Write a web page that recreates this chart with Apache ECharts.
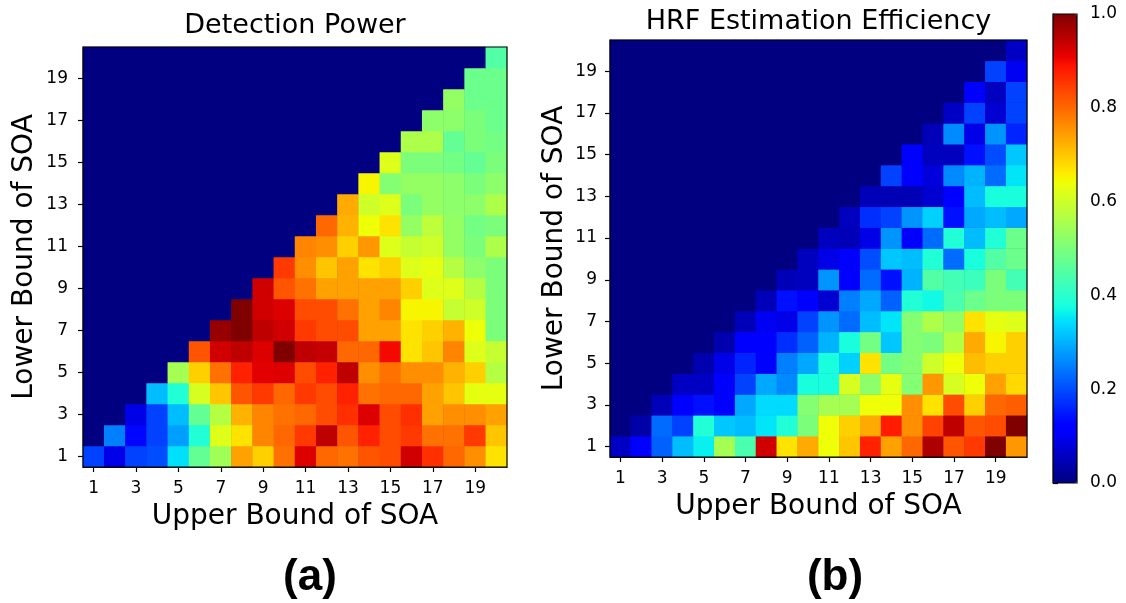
<!DOCTYPE html>
<html>
<head>
<meta charset="utf-8">
<script src="https://cdn.jsdelivr.net/npm/echarts@6/dist/echarts.min.js"></script>
<style>html,body{margin:0;padding:0;background:#fff;}#c{width:1126px;height:603px;}</style>
</head>
<body>
<div id="c"></div>
<script>
// Axis categories (SOA bounds 1..20)
const soaCategories = ['1','2','3','4','5','6','7','8','9','10','11','12','13','14','15','16','17','18','19','20'];
const colorbarTicks = [0, 0.2, 0.4, 0.6, 0.8, 1.0];

// Detection Power: each row = lower bound (1..20), columns = upper bound (1..20)
const dpLower1  = [0.19,0.09,0.19,0.20,0.345,0.47,0.545,0.74,0.69,0.79,0.92,0.80,0.79,0.82,0.83,0.93,0.86,0.80,0.76,0.67];
const dpLower2  = [0,0.25,0.13,0.19,0.28,0.39,0.62,0.67,0.77,0.80,0.85,0.945,0.82,0.875,0.83,0.85,0.79,0.79,0.85,0.70];
const dpLower3  = [0,0,0.09,0.19,0.31,0.47,0.57,0.72,0.77,0.79,0.80,0.83,0.86,0.92,0.83,0.86,0.74,0.76,0.76,0.74];
const dpLower4  = [0,0,0,0.31,0.39,0.61,0.70,0.82,0.85,0.80,0.85,0.83,0.875,0.79,0.80,0.80,0.74,0.70,0.63,0.63];
const dpLower5  = [0,0,0,0,0.55,0.69,0.79,0.875,0.915,0.92,0.83,0.875,0.945,0.76,0.79,0.76,0.76,0.72,0.69,0.57];
const dpLower6  = [0,0,0,0,0,0.82,0.93,0.945,0.92,1.0,0.945,0.94,0.80,0.80,0.90,0.67,0.70,0.77,0.62,0.59];
const dpLower7  = [0,0,0,0,0,0,0.98,1.0,0.945,0.93,0.85,0.83,0.83,0.74,0.74,0.67,0.69,0.72,0.64,0.50];
const dpLower8  = [0,0,0,0,0,0,0,1.0,0.93,0.92,0.83,0.83,0.79,0.74,0.77,0.65,0.65,0.59,0.60,0.50];
const dpLower9  = [0,0,0,0,0,0,0,0,0.93,0.82,0.79,0.74,0.74,0.74,0.74,0.69,0.62,0.62,0.57,0.50];
const dpLower10 = [0,0,0,0,0,0,0,0,0,0.85,0.76,0.70,0.74,0.67,0.69,0.62,0.63,0.57,0.52,0.50];
const dpLower11 = [0,0,0,0,0,0,0,0,0,0,0.77,0.76,0.69,0.75,0.62,0.59,0.60,0.53,0.50,0.56];
const dpLower12 = [0,0,0,0,0,0,0,0,0,0,0,0.80,0.72,0.64,0.67,0.53,0.58,0.53,0.49,0.50];
const dpLower13 = [0,0,0,0,0,0,0,0,0,0,0,0,0.73,0.60,0.62,0.50,0.53,0.52,0.52,0.56];
const dpLower14 = [0,0,0,0,0,0,0,0,0,0,0,0,0,0.65,0.51,0.53,0.53,0.52,0.50,0.52];
const dpLower15 = [0,0,0,0,0,0,0,0,0,0,0,0,0,0,0.62,0.50,0.50,0.49,0.47,0.50];
const dpLower16 = [0,0,0,0,0,0,0,0,0,0,0,0,0,0,0,0.56,0.56,0.47,0.50,0.49];
const dpLower17 = [0,0,0,0,0,0,0,0,0,0,0,0,0,0,0,0,0.52,0.52,0.50,0.48];
const dpLower18 = [0,0,0,0,0,0,0,0,0,0,0,0,0,0,0,0,0,0.53,0.48,0.48];
const dpLower19 = [0,0,0,0,0,0,0,0,0,0,0,0,0,0,0,0,0,0,0.48,0.48];
const dpLower20 = [0,0,0,0,0,0,0,0,0,0,0,0,0,0,0,0,0,0,0,0.45];

// HRF Estimation Efficiency
const heLower1  = [0.06,0.12,0.22,0.31,0.36,0.55,0.44,0.93,0.67,0.73,0.64,0.70,0.875,0.74,0.80,0.96,0.82,0.85,1.0,0.75];
const heLower2  = [0,0.035,0.23,0.19,0.39,0.32,0.31,0.35,0.39,0.50,0.64,0.69,0.73,0.88,0.76,0.84,0.945,0.82,0.83,1.0];
const heLower3  = [0,0,0.05,0.12,0.14,0.12,0.29,0.34,0.34,0.51,0.55,0.55,0.64,0.64,0.76,0.67,0.83,0.69,0.80,0.81];
const heLower4  = [0,0,0,0.06,0.06,0.12,0.19,0.29,0.26,0.38,0.38,0.61,0.52,0.63,0.51,0.75,0.61,0.64,0.74,0.68];
const heLower5  = [0,0,0,0,0.04,0.09,0.16,0.12,0.25,0.29,0.38,0.33,0.67,0.49,0.51,0.60,0.64,0.71,0.69,0.69];
const heLower6  = [0,0,0,0,0,0.04,0.12,0.12,0.17,0.22,0.30,0.38,0.49,0.32,0.51,0.50,0.57,0.73,0.65,0.69];
const heLower7  = [0,0,0,0,0,0,0.05,0.10,0.09,0.19,0.27,0.23,0.31,0.35,0.51,0.56,0.53,0.67,0.63,0.62];
const heLower8  = [0,0,0,0,0,0,0,0.05,0.14,0.12,0.07,0.25,0.29,0.22,0.39,0.37,0.44,0.48,0.50,0.50];
const heLower9  = [0,0,0,0,0,0,0,0,0.05,0.055,0.27,0.12,0.23,0.14,0.30,0.45,0.43,0.42,0.50,0.43];
const heLower10 = [0,0,0,0,0,0,0,0,0,0.055,0.09,0.12,0.20,0.32,0.31,0.39,0.23,0.38,0.45,0.48];
const heLower11 = [0,0,0,0,0,0,0,0,0,0,0.055,0.05,0.09,0.27,0.12,0.23,0.39,0.31,0.39,0.48];
const heLower12 = [0,0,0,0,0,0,0,0,0,0,0,0.055,0.17,0.19,0.27,0.33,0.14,0.29,0.31,0.29];
const heLower13 = [0,0,0,0,0,0,0,0,0,0,0,0,0.05,0.045,0.045,0.07,0.12,0.31,0.38,0.38];
const heLower14 = [0,0,0,0,0,0,0,0,0,0,0,0,0,0.19,0.12,0.08,0.26,0.30,0.23,0.35];
const heLower15 = [0,0,0,0,0,0,0,0,0,0,0,0,0,0,0.12,0.055,0.055,0.14,0.20,0.32];
const heLower16 = [0,0,0,0,0,0,0,0,0,0,0,0,0,0,0,0.05,0.26,0.09,0.27,0.16];
const heLower17 = [0,0,0,0,0,0,0,0,0,0,0,0,0,0,0,0,0.06,0.19,0.07,0.19];
const heLower18 = [0,0,0,0,0,0,0,0,0,0,0,0,0,0,0,0,0,0.12,0.055,0.19];
const heLower19 = [0,0,0,0,0,0,0,0,0,0,0,0,0,0,0,0,0,0,0.19,0.10];
const heLower20 = [0,0,0,0,0,0,0,0,0,0,0,0,0,0,0,0,0,0,0,0.06];

const dpRows = [dpLower1,dpLower2,dpLower3,dpLower4,dpLower5,dpLower6,dpLower7,dpLower8,dpLower9,dpLower10,
                dpLower11,dpLower12,dpLower13,dpLower14,dpLower15,dpLower16,dpLower17,dpLower18,dpLower19,dpLower20];
const heRows = [heLower1,heLower2,heLower3,heLower4,heLower5,heLower6,heLower7,heLower8,heLower9,heLower10,
                heLower11,heLower12,heLower13,heLower14,heLower15,heLower16,heLower17,heLower18,heLower19,heLower20];

function toCells(rows){
  const out = [];
  rows.forEach((row, yi) => row.forEach((v, xi) => out.push([xi, yi, v])));
  return out;
}

// matplotlib "jet" colormap
function jet(v){
  const seg = {
    r: [[0,0],[0.35,0],[0.66,1],[0.89,1],[1,0.5]],
    g: [[0,0],[0.125,0],[0.375,1],[0.64,1],[0.91,0],[1,0]],
    b: [[0,0.5],[0.11,1],[0.34,1],[0.65,0],[1,0]]
  };
  function f(p){
    for (let i=1;i<p.length;i++){
      if (v <= p[i][0]){
        const t = (v - p[i-1][0])/(p[i][0]-p[i-1][0]);
        return p[i-1][1] + t*(p[i][1]-p[i-1][1]);
      }
    }
    return p[p.length-1][1];
  }
  const h = x => Math.round(Math.max(0,Math.min(1,x))*255);
  return 'rgb(' + h(f(seg.r)) + ',' + h(f(seg.g)) + ',' + h(f(seg.b)) + ')';
}
const jetStops = [];
for (let i=0;i<=200;i++) jetStops.push(jet(i/200));

// layout boxes
const boxA = {left: 83, top: 47, width: 424, height: 420};
const boxB = {left: 610, top: 40, width: 417, height: 417};
const boxC = {left: 1053, top: 14, width: 24, height: 469};

const FONT = 'DejaVu Sans';
function catAxis(gridIndex, name, gap, labelMargin){
  return {
    type: 'category', gridIndex: gridIndex, data: soaCategories,
    name: name, nameLocation: 'middle', nameGap: gap,
    nameTextStyle: {fontFamily: FONT, fontSize: 28, color: '#000'},
    axisLine: {show: true, lineStyle: {color: '#000', width: 1.2}},
    axisTick: {show: true, alignWithLabel: true, interval: 1, length: 5, lineStyle: {color: '#000', width: 1.2}},
    axisLabel: {interval: 1, fontFamily: FONT, fontSize: 17, color: '#000', margin: labelMargin},
    splitLine: {show: false}, splitArea: {show: false}
  };
}
function gridOf(b){
  return Object.assign({show: true, borderColor: '#000', borderWidth: 1.2, backgroundColor: 'transparent', z: 10}, b);
}
function bgRect(b){
  return {type: 'rect', z: -5, silent: true, shape: {x: b.left, y: b.top, width: b.width, height: b.height}, style: {fill: jet(0)}};
}

const chart = echarts.init(document.getElementById('c'), null, {renderer: 'canvas'});
chart.setOption({
  animation: false,
  backgroundColor: '#fff',
  grid: [gridOf(boxA), gridOf(boxB), gridOf(boxC)],
  xAxis: [
    catAxis(0, 'Upper Bound of SOA', 36, 13),
    catAxis(1, 'Upper Bound of SOA', 36, 13),
    {type: 'value', gridIndex: 2, show: false, min: 0, max: 1}
  ],
  yAxis: [
    catAxis(0, 'Lower Bound of SOA', 44, 15),
    catAxis(1, 'Lower Bound of SOA', 41, 13),
    {type: 'value', gridIndex: 2, position: 'right', min: colorbarTicks[0], max: colorbarTicks[colorbarTicks.length-1], interval: 0.2,
     axisLine: {show: true, lineStyle: {color: '#000', width: 1.2}},
     axisTick: {show: true, length: 5, lineStyle: {color: '#000', width: 1.2}},
     axisLabel: {fontFamily: FONT, fontSize: 17, color: '#000', margin: 13, formatter: v => v.toFixed(1)},
     splitLine: {show: false}}
  ],
  visualMap: {
    type: 'continuous', min: 0, max: 1, seriesIndex: [0, 1], calculable: false,
    orient: 'vertical', left: boxC.left, top: boxC.top, itemWidth: boxC.width, itemHeight: boxC.height, padding: 0,
    text: null, showLabel: false, hoverLink: false,
    inRange: {color: jetStops}
  },
  graphic: [
    bgRect(boxA), bgRect(boxB),
    {type: 'text', x: boxA.left + boxA.width/2, y: 26, style: {text: 'Detection Power', font: '27px "DejaVu Sans"', fill: '#000', textAlign: 'center', textVerticalAlign: 'middle'}},
    {type: 'text', x: boxB.left + boxB.width/2, y: 22, style: {text: 'HRF Estimation Efficiency', font: '27px "DejaVu Sans"', fill: '#000', textAlign: 'center', textVerticalAlign: 'middle'}},
    {type: 'text', x: 310, y: 578, style: {text: '(a)', font: 'bold 44px "Liberation Sans"', fill: '#000', textAlign: 'center', textVerticalAlign: 'middle'}},
    {type: 'text', x: 835, y: 578, style: {text: '(b)', font: 'bold 44px "Liberation Sans"', fill: '#000', textAlign: 'center', textVerticalAlign: 'middle'}}
  ],
  series: [
    {type: 'heatmap', xAxisIndex: 0, yAxisIndex: 0, data: toCells(dpRows), emphasis: {disabled: true}, progressive: 0},
    {type: 'heatmap', xAxisIndex: 1, yAxisIndex: 1, data: toCells(heRows), emphasis: {disabled: true}, progressive: 0},
    {type: 'scatter', xAxisIndex: 2, yAxisIndex: 2, data: [], silent: true}
  ]
});
</script>
</body>
</html>
